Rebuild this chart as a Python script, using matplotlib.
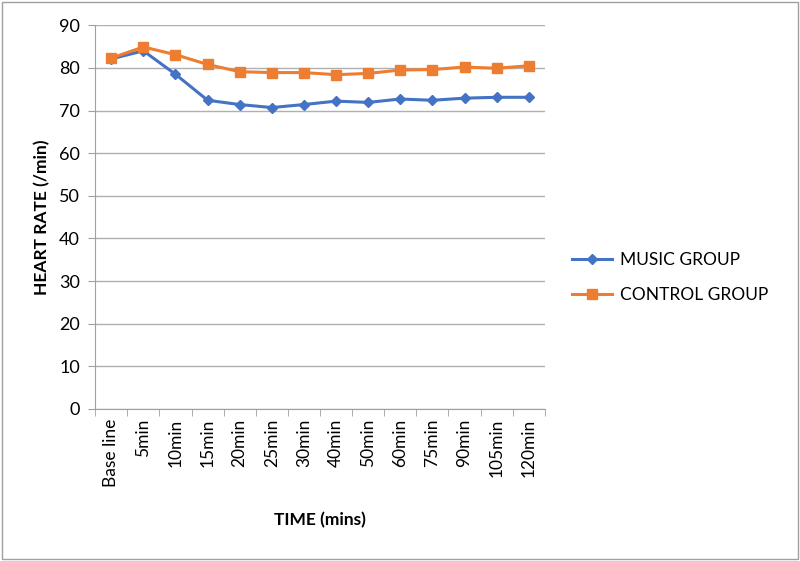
import matplotlib.pyplot as plt
from matplotlib.patches import Rectangle
import numpy as np

plt.rcParams["font.family"] = ["Lato", "DejaVu Sans"]

labels = ['Base line', '5min', '10min', '15min', '20min', '25min', '30min',
          '40min', '50min', '60min', '75min', '90min', '105min', '120min']
music = [82.1, 84.0, 78.5, 72.4, 71.4, 70.7, 71.4, 72.2, 71.9, 72.7, 72.4, 72.9, 73.1, 73.1]
control = [82.3, 84.9, 83.1, 80.8, 79.1, 78.9, 78.9, 78.4, 78.7, 79.5, 79.6, 80.2, 79.9, 80.5]

fig = plt.figure(figsize=(8, 5.61), dpi=100)
fig.patches.append(Rectangle((0.003, 0.003), 0.994, 0.994, transform=fig.transFigure,
                             fill=False, edgecolor='#a0a0a0', linewidth=1))
ax = fig.add_axes([0.119, 0.271, 0.562, 0.684])

x = np.arange(len(labels))
ax.plot(x, music, color='#4472C4', marker='D', markersize=5, linewidth=2.2, label='MUSIC GROUP')
ax.plot(x, control, color='#ED7D31', marker='s', markersize=7, linewidth=2.2, label='CONTROL GROUP')

ax.set_xlim(-0.5, len(labels) - 0.5)
ax.set_ylim(0, 90)
ax.set_yticks(range(0, 91, 10))
ax.yaxis.grid(True, color='#b0b0b0', linewidth=1)
ax.set_axisbelow(True)

ax.set_xticks(x)
ax.set_xticklabels(labels, rotation=90, fontsize=12.5)
ax.set_xticks(np.arange(-0.5, len(labels), 1), minor=True)
ax.tick_params(axis='x', which='major', length=0, pad=7)
ax.tick_params(axis='x', which='minor', length=5, color='#a0a0a0')
ax.tick_params(axis='y', length=5, color='#a0a0a0', labelsize=13, pad=6)

for s in ['top', 'right']:
    ax.spines[s].set_visible(False)
for s in ['left', 'bottom']:
    ax.spines[s].set_color('#a0a0a0')

ax.set_ylabel('HEART RATE (/min)', fontsize=12.5, fontweight='bold', labelpad=6)
ax.set_xlabel('TIME (mins)', fontsize=12.5, fontweight='bold', labelpad=18)

fig.legend(loc='center left', bbox_to_anchor=(0.695, 0.505), frameon=False,
           fontsize=12.5, handlelength=2.3, handletextpad=0.5, labelspacing=1.1)

fig.savefig('out.png', dpi=100)
